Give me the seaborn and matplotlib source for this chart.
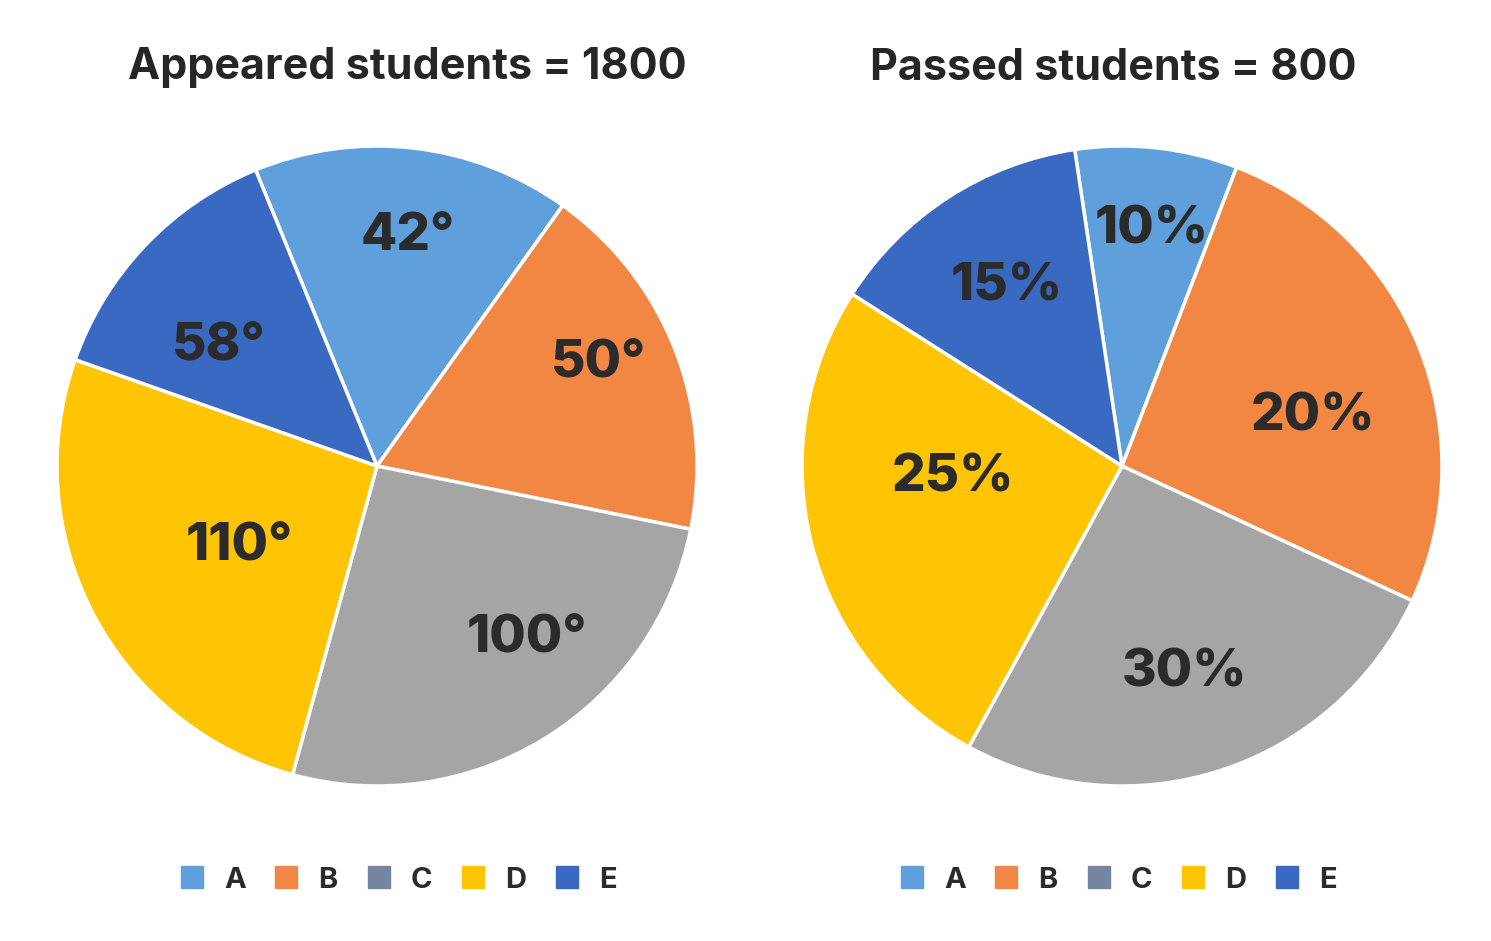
import matplotlib
matplotlib.use("Agg")
import matplotlib.pyplot as plt
from matplotlib.lines import Line2D
import numpy as np
import seaborn as sns

# ---- data ----
categories = ["A", "B", "C", "D", "E"]
# slice sizes (degrees) as drawn in the picture
appeared_sizes = [57.8, 65.9, 93.9, 94.1, 48.3]
passed_sizes = [29.5, 93.9, 93.7, 93.9, 49.0]
# slice labels as printed
appeared_labels = ["42°", "50°", "100°", "110°", "58°"]
passed_labels = ["10%", "20%", "30%", "25%", "15%"]
titles = ["Appeared students = 1800", "Passed students = 800"]

pie_colors = ["#5f9fdb", "#f28744", "#a5a5a5", "#ffc403", "#3a69c2"]
legend_colors = ["#5f9fdb", "#f28744", "#7585a0", "#ffc403", "#3a69c2"]

sns.set_theme(style="white")
plt.rcParams['font.family'] = ['Inter', 'DejaVu Sans']

W, H = 1491, 941
fig = plt.figure(figsize=(W / 100, H / 100), dpi=100)
R = 320
LIM = 1.05
side = 2 * R * LIM


def make_ax(cx, cy_top):
    cy = H - cy_top
    return fig.add_axes([(cx - side / 2) / W, (cy - side / 2) / H, side / W, side / H])


configs = [
    dict(center=(377, 466), sizes=appeared_sizes, labels=appeared_labels, start=112.3,
         radii=[0.74, 0.77, 0.70, 0.49, 0.63], offs=[-0.9, 4.5, 10.4, 0.7, 5.1],
         title_x=407, legend_x=397),
    dict(center=(1122, 466), sizes=passed_sizes, labels=passed_labels, start=98.5,
         radii=[0.76, 0.62, 0.66, 0.53, 0.68], offs=[-0.85, -6.2, -1.0, -12.1, -1.0],
         title_x=1113, legend_x=1117),
]

for i, cfg in enumerate(configs):
    ax = make_ax(*cfg["center"])
    wedges, _ = ax.pie(cfg["sizes"], colors=pie_colors, startangle=cfg["start"],
                       counterclock=False, radius=1.0,
                       wedgeprops=dict(edgecolor="white", linewidth=2.5))
    ax.set_xlim(-LIM, LIM)
    ax.set_ylim(-LIM, LIM)
    ax.set_aspect("equal")
    ax.axis("off")
    for w, lab, r, d in zip(wedges, cfg["labels"], cfg["radii"], cfg["offs"]):
        mid = np.deg2rad((w.theta1 + w.theta2) / 2 + d)
        ax.text(r * np.cos(mid), r * np.sin(mid), lab, ha="center", va="center_baseline",
                fontsize=38, fontweight="heavy", color="#2b2b2b")
    fig.text(cfg["title_x"] / W, 1 - 68 / H, titles[i], ha="center", va="center",
             fontsize=31, fontweight="bold", color="#262626")
    handles = [Line2D([0], [0], marker="s", linestyle="none", markersize=16,
                      markerfacecolor=c, markeredgecolor=c) for c in legend_colors]
    fig.legend(handles, categories, loc="center", ncol=5,
               bbox_to_anchor=(cfg["legend_x"] / W, 1 - 880 / H), frameon=False,
               prop=dict(size=21, weight="bold"), labelcolor="#2b2b2b",
               handletextpad=0.6, columnspacing=0.9, handlelength=1.0)

fig.savefig("out.png", dpi=100, facecolor="white")
